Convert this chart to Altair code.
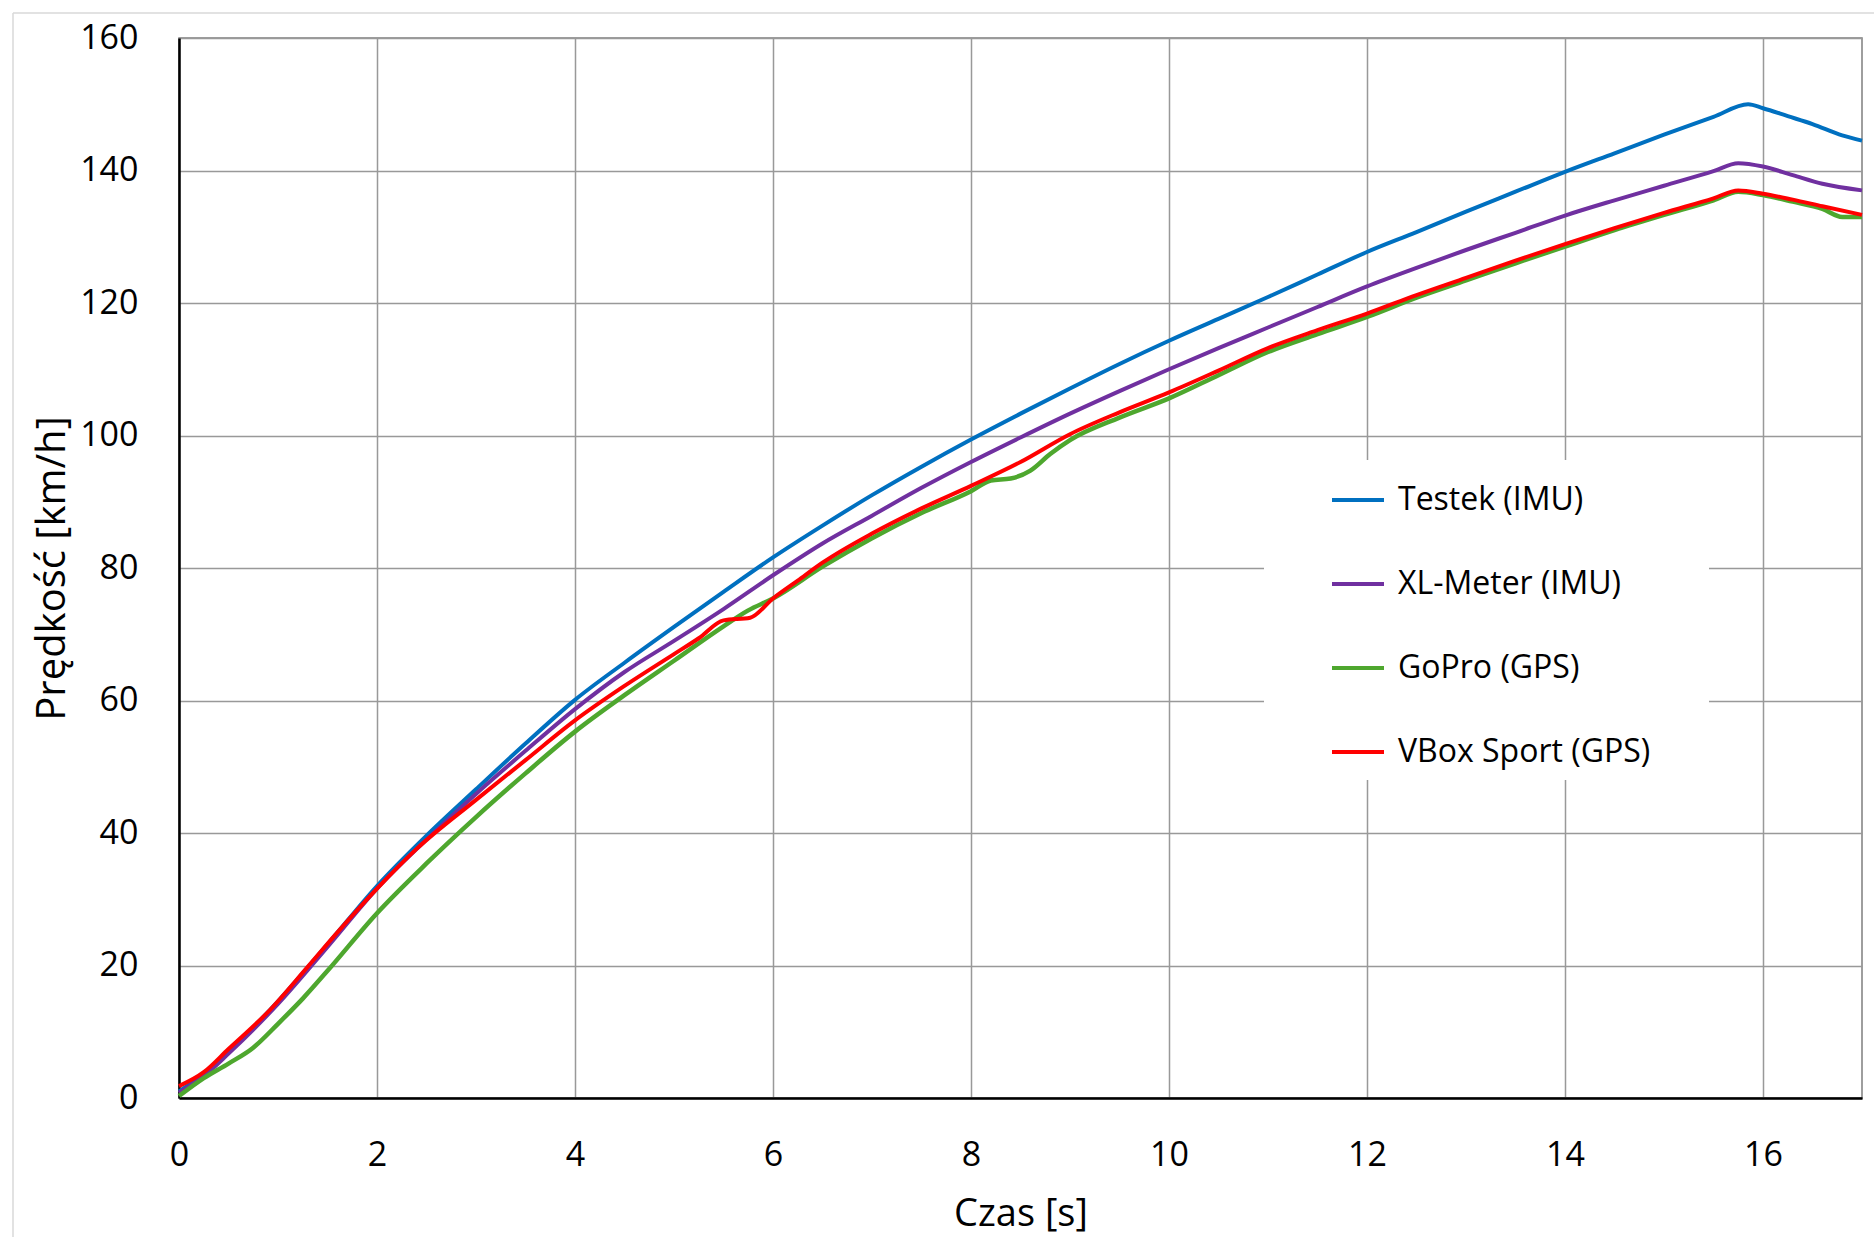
import altair as alt
import pandas as pd

FONT = "Open Sans"

series_names = ["Testek (IMU)", "XL-Meter (IMU)", "GoPro (GPS)", "VBox Sport (GPS)"]
series_colors = ["#0070C0", "#7030A0", "#4EA72E", "#FF0000"]
series_widths = [4, 4, 4.5, 4]

x_ticks = [0, 2, 4, 6, 8, 10, 12, 14, 16]
y_ticks = [0, 20, 40, 60, 80, 100, 120, 140, 160]

# Testek (IMU)
t_testek = [0, 0.25, 0.5, 1.0, 1.5, 2.0, 2.5, 3.0, 3.5, 4.0, 4.5, 5.0, 5.5, 6.0,
            6.5, 7.0, 7.5, 8.0, 8.5, 9.0, 9.5, 10.0, 10.5, 11.0, 11.5, 12.0,
            12.5, 13.0, 13.5, 14.0, 14.5, 15.0, 15.5, 15.85, 16.0, 16.25, 16.5,
            16.8, 17.0]
v_testek = [1.0, 3.6, 7.0, 14.6, 23.2, 32.0, 39.6, 46.6, 53.5, 60.1, 65.7, 71.1,
            76.4, 81.6, 86.4, 91.0, 95.3, 99.4, 103.3, 107.1, 110.8, 114.3, 117.6,
            120.9, 124.3, 127.7, 130.7, 133.8, 136.8, 139.8, 142.6, 145.4, 148.1,
            150.0, 149.4, 148.2, 147.0, 145.3, 144.5]

# XL-Meter (IMU)
t_xl = [0, 0.25, 0.5, 1.0, 1.5, 2.0, 2.5, 3.0, 3.5, 4.0, 4.5, 5.0, 5.5, 6.0, 6.5,
        7.0, 7.5, 8.0, 8.5, 9.0, 9.5, 10.0, 10.5, 11.0, 11.5, 12.0, 12.5, 13.0,
        13.5, 14.0, 14.5, 15.0, 15.5, 15.75, 16.0, 16.3, 16.6, 17.0]
v_xl = [0.8, 3.3, 6.7, 14.2, 22.8, 31.6, 39.0, 45.9, 52.4, 58.7, 64.3, 69.0, 73.8,
        78.9, 83.7, 87.9, 92.1, 96.0, 99.7, 103.3, 106.7, 110.0, 113.2, 116.3,
        119.4, 122.5, 125.3, 128.0, 130.6, 133.2, 135.5, 137.7, 139.9, 141.1,
        140.6, 139.3, 138.0, 137.0]

# GoPro (GPS)
t_gopro = [0, 0.25, 0.5, 0.75, 1.0, 1.25, 1.5, 2.0, 2.5, 3.0, 3.5, 4.0, 4.5, 5.0,
           5.5, 5.75, 6.0, 6.5, 7.0, 7.5, 8.0, 8.2, 8.4, 8.6, 8.8, 9.0, 9.5, 10.0,
           10.5, 11.0, 11.5, 12.0, 12.5, 13.0, 13.5, 14.0, 14.5, 15.0, 15.5, 15.75,
           16.0, 16.3, 16.6, 16.8, 17.0]
v_gopro = [0.3, 3.0, 5.2, 7.6, 11.2, 15.0, 19.2, 27.9, 35.4, 42.4, 49.0, 55.3,
           60.8, 66.0, 71.2, 73.6, 75.4, 80.2, 84.5, 88.3, 91.6, 93.2, 93.5, 94.7,
           97.2, 99.3, 102.7, 105.6, 109.1, 112.6, 115.3, 117.9, 120.8, 123.4,
           126.0, 128.5, 131.0, 133.3, 135.5, 136.8, 136.3, 135.3, 134.2, 133.0,
           133.0]

# VBox Sport (GPS)
t_vbox = [0, 0.25, 0.5, 0.9, 1.3, 1.6, 2.0, 2.4, 3.0, 3.5, 4.0, 4.5, 5.0, 5.25,
          5.5, 5.77, 6.0, 6.25, 6.5, 7.0, 7.5, 8.0, 8.5, 9.0, 9.5, 10.0, 10.5,
          11.0, 11.5, 12.0, 12.5, 13.0, 13.5, 14.0, 14.5, 15.0, 15.5, 15.75, 16.0,
          16.3, 16.6, 17.0]
v_vbox = [1.8, 3.9, 7.4, 13.0, 19.8, 25.0, 31.6, 37.6, 45.0, 51.0, 57.0, 62.2,
          67.0, 69.4, 72.1, 72.5, 75.4, 78.1, 80.8, 85.2, 89.0, 92.4, 96.0, 100.2,
          103.5, 106.5, 109.8, 113.2, 115.9, 118.4, 121.2, 123.8, 126.4, 128.9,
          131.3, 133.6, 135.8, 137.0, 136.5, 135.6, 134.6, 133.3]

series_data = [
    (series_names[0], t_testek, v_testek),
    (series_names[1], t_xl, v_xl),
    (series_names[2], t_gopro, v_gopro),
    (series_names[3], t_vbox, v_vbox),
]

color_scale = alt.Scale(domain=series_names, range=series_colors)
legend = alt.Legend(
    title=None,
    orient="none",
    legendX=1085,
    legendY=422,
    fillColor="white",
    padding=12,
    symbolType="stroke",
    symbolSize=2704,
    symbolStrokeWidth=4,
    symbolOffset=54,
    labelOffset=12,
    labelFont=FONT,
    labelFontSize=32,
    labelColor="#000000",
    labelLimit=600,
    labelExpr="datum.label + '\u2800\u2800'",
    rowPadding=40,
)

x_enc = alt.X(
    "t:Q",
    scale=alt.Scale(domain=[0, 17], nice=False, zero=False),
    axis=alt.Axis(values=x_ticks, title="Czas [s]", titleY=127,
                  titleBaseline="alphabetic", labelPadding=40, labelFlush=False),
)
y_enc = alt.Y(
    "v:Q",
    scale=alt.Scale(domain=[0, 160], nice=False),
    axis=alt.Axis(values=y_ticks, title="Prędkość [km/h]", titleX=-127,
                  titleY=530, titleAngle=270, titleAlign="center",
                  titleBaseline="middle", titleFontSize=40, labelPadding=41,
                  labelFlush=False),
)

layers = []
for (name, ts, vs), w in zip(series_data, series_widths):
    df = pd.DataFrame({"t": ts, "v": vs, "series": name})
    layers.append(
        alt.Chart(df)
        .mark_line(strokeWidth=w, interpolate="monotone")
        .encode(
            x=x_enc,
            y=y_enc,
            color=alt.Color("series:N", scale=color_scale, legend=legend),
        )
    )

one = pd.DataFrame({"k": [0]})
frame_top = alt.Chart(one).mark_rule(color="#d9d9d9", strokeWidth=1.5).encode(
    x=alt.value(-166), x2=alt.value(1700), y=alt.value(-25)
)
frame_left = alt.Chart(one).mark_rule(color="#d9d9d9", strokeWidth=1.5).encode(
    x=alt.value(-166), y=alt.value(-25), y2=alt.value(1210)
)

chart = (
    alt.layer(frame_top, frame_left, *layers)
    .properties(
        width=1683,
        height=1060,
        autosize=alt.AutoSizeParams(type="none"),
        padding={"left": 179, "top": 38, "right": 12, "bottom": 139},
        background="white",
    )
    .configure_axis(
        labelFont=FONT,
        labelFontSize=34,
        labelColor="#000000",
        titleFont=FONT,
        titleFontSize=38,
        titleFontWeight="normal",
        titleColor="#000000",
        ticks=False,
        tickSize=0,
        domainColor="#000000",
        domainWidth=2.5,
        gridColor="#999999",
        gridWidth=1.5,
        gridOpacity=1,
    )
    .configure_view(stroke="#7f7f7f", strokeWidth=1.5)
)

chart.save("out.html", embed_options={"renderer": "svg", "actions": False})
